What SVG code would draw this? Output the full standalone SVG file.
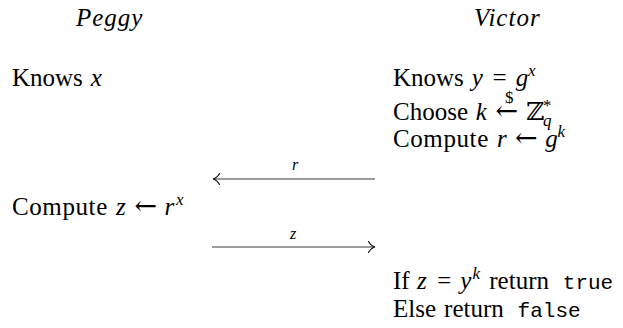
<svg xmlns="http://www.w3.org/2000/svg" width="623" height="328" viewBox="0 0 623 328">
<style>
text{font-family:"Liberation Serif","DejaVu Serif",serif;font-size:25px;fill:#000}
.i{font-style:italic}
.tt{font-family:"Liberation Mono","DejaVu Sans Mono",monospace;font-size:21px}
.s{font-size:17px}
.cw{letter-spacing:0.6px}
.ar{font-family:"DejaVu Serif",serif;font-size:27px}
.hd{font-style:italic;font-size:25px;letter-spacing:1px}
.lbl{font-style:italic;font-size:16px;text-anchor:middle}
.ln{stroke:#3a3a3a;stroke-width:1.1;fill:none}
.hk{stroke:#000;stroke-width:1.1;fill:none;stroke-linecap:round}
</style>
<g id="peggy-title"><text class="hd" x="76" y="26">Peggy</text></g>
<g id="victor-title"><text class="hd" x="474" y="26">Victor</text></g>
<g id="peggy-knows"><text x="12" y="86">Knows<tspan class="i" x="90.8">x</tspan></text></g>
<g id="victor-setup">
<text x="393" y="86">Knows<tspan class="i" x="471.8">y</tspan><tspan x="492.6">=</tspan><tspan class="i" x="515.7">g</tspan><tspan class="i s" x="528" y="76">x</tspan></text>
<text x="393" y="120">Choose<tspan class="i" x="475.8">k</tspan><tspan class="ar" x="495.5">←</tspan><tspan class="s" x="505" y="103">$</tspan><tspan x="526" y="120">ℤ</tspan><tspan class="s" x="543" y="111">*</tspan><tspan class="i s" x="543" y="126">q</tspan></text>
<text x="393" y="147"><tspan class="cw">Compute</tspan><tspan class="i" x="497">r</tspan><tspan class="ar" x="515">←</tspan><tspan class="i" x="545.2">g</tspan><tspan class="i s" x="557.5" y="137">k</tspan></text>
</g>
<g id="peggy-compute"><text x="12" y="215"><tspan class="cw">Compute</tspan><tspan class="i" x="116">z</tspan><tspan class="ar" x="134.5">←</tspan><tspan class="i" x="164.6">r</tspan><tspan class="i s" x="175.9" y="205">x</tspan></text></g>
<g id="victor-verify">
<text x="393" y="289">If<tspan class="i" x="417">z</tspan><tspan x="437.2">=</tspan><tspan class="i" x="460.3">y</tspan><tspan class="i s" x="472.5" y="279">k</tspan><tspan x="489.3" y="289">return</tspan><tspan class="tt" x="562.8">true</tspan></text>
<text x="393" y="317">Else<tspan x="444.1">return</tspan><tspan class="tt" x="517.6">false</tspan></text>
</g>
<g id="connectors">
<g id="msg-r">
<line class="ln" x1="214" y1="179" x2="375" y2="179"/>
<path class="hk" d="M219.5,173.5 Q217,178 213,179 Q217,180 219.5,184.5"/>
<text class="lbl" x="295" y="170">r</text>
</g>
<g id="msg-z">
<line class="ln" x1="212" y1="247" x2="374" y2="247"/>
<path class="hk" d="M368.5,241.5 Q371,246 375,247 Q371,248 368.5,252.5"/>
<text class="lbl" x="293" y="239">z</text>
</g>
</g>
</svg>
